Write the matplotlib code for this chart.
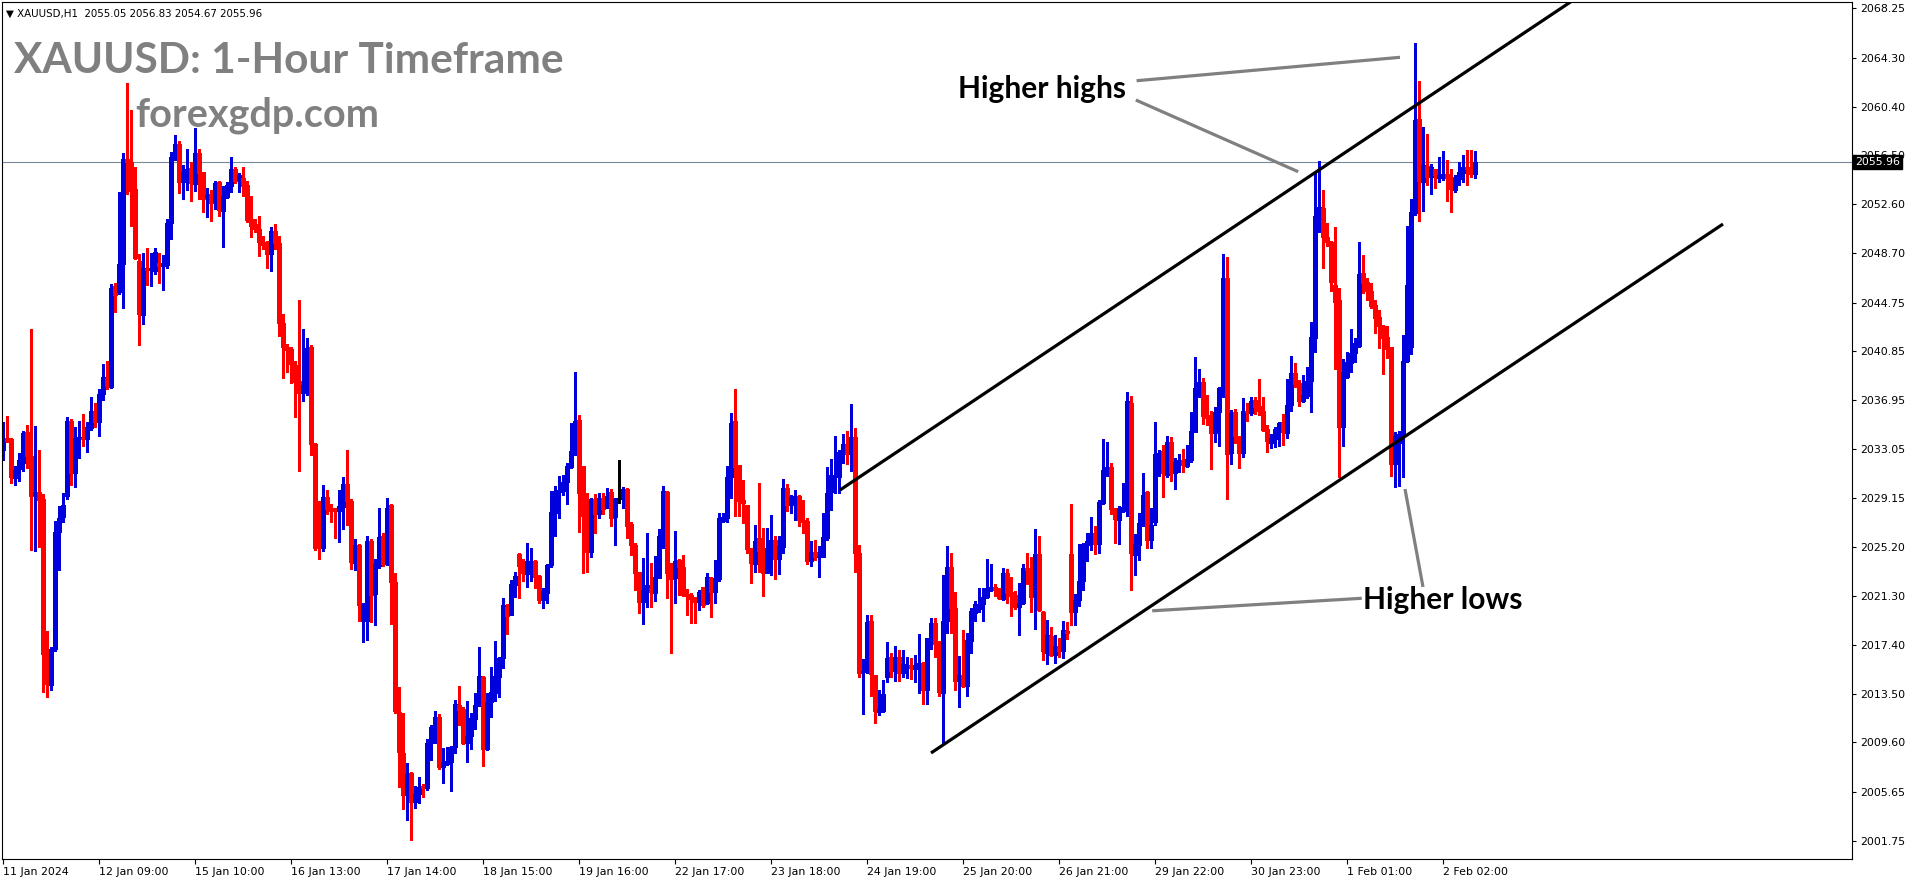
import numpy as np
import matplotlib
matplotlib.use("Agg")
import matplotlib.pyplot as plt
from matplotlib import transforms

# ---------------- data (XAUUSD H1) ----------------
opens = [
 2032.94, 2033.92, 2033.84, 2030.70, 2031.43, 2031.96, 2034.37, 2032.49, 2029.39, 2029.64,
 2029.07, 2016.71, 2014.23, 2017.04, 2026.42, 2027.64, 2029.27, 2035.31, 2031.11, 2033.88,
 2033.96, 2033.88, 2034.69, 2036.08, 2035.18, 2037.43, 2038.73, 2038.04, 2046.07, 2045.58,
 2047.82, 2056.22, 2055.98, 2053.81, 2048.07, 2043.75, 2047.46, 2047.37, 2047.29, 2047.90,
 2047.70, 2047.74, 2051.08, 2056.38, 2057.40, 2054.35, 2055.16, 2055.49, 2054.22, 2056.67,
 2055.16, 2053.16, 2053.41, 2052.80, 2054.35, 2052.10, 2053.20, 2054.02, 2055.45, 2054.51,
 2054.67, 2054.10, 2051.45, 2051.00, 2050.60, 2049.57, 2049.45, 2048.60, 2050.43, 2049.53,
 2043.09, 2041.22, 2041.05, 2039.79, 2038.45, 2037.55, 2038.16, 2041.18, 2033.43, 2025.28,
 2025.15, 2029.23, 2028.33, 2028.25, 2028.13, 2028.42, 2030.25, 2028.90, 2023.97, 2025.40,
 2019.28, 2019.28, 2025.73, 2021.44, 2023.69, 2026.13, 2023.85, 2028.54, 2022.46, 2012.03,
 2008.76, 2005.42, 2007.13, 2004.81, 2005.49, 2006.15, 2005.99, 2009.59, 2010.71, 2011.61,
 2007.62, 2007.88, 2008.07, 2009.22, 2012.57, 2012.28, 2009.54, 2010.12, 2011.48, 2012.54,
 2014.84, 2009.06, 2012.84, 2013.58, 2014.86, 2016.38, 2020.40, 2019.79, 2022.18, 2024.66,
 2023.78, 2023.09, 2023.97, 2024.10, 2022.90, 2020.99, 2021.57, 2023.78, 2027.91, 2029.64,
 2029.72, 2030.41, 2031.59, 2032.81, 2035.37, 2031.69, 2027.86, 2024.82, 2029.06, 2027.86,
 2029.16, 2028.36, 2029.64, 2027.64, 2029.11, 2029.16, 2029.88, 2027.06, 2025.38, 2023.22,
 2020.85, 2021.65, 2021.92, 2021.57, 2022.77, 2026.05, 2029.64, 2023.17, 2022.72, 2024.18,
 2023.65, 2021.47, 2021.39, 2021.07, 2020.85, 2022.00, 2020.72, 2022.72, 2021.65, 2022.64,
 2027.32, 2027.56, 2030.84, 2035.29, 2031.77, 2028.98, 2028.58, 2025.06, 2023.86, 2025.91,
 2024.98, 2023.17, 2025.06, 2025.78, 2024.23, 2025.25, 2029.91, 2028.58, 2028.98, 2029.29,
 2027.38, 2027.30, 2024.10, 2024.79, 2024.45, 2024.45, 2025.91, 2029.64, 2030.79, 2030.84,
 2032.78, 2033.45, 2032.65, 2034.04, 2024.71, 2015.23, 2015.23, 2019.31, 2015.00, 2012.07,
 2012.14, 2014.86, 2016.46, 2015.34, 2016.46, 2015.18, 2015.66, 2015.82, 2015.50, 2015.79,
 2015.93, 2013.80, 2017.85, 2019.18, 2017.66, 2013.58, 2019.34, 2023.62, 2020.32, 2014.54,
 2015.00, 2014.14, 2017.74, 2019.97, 2020.27, 2020.69, 2021.23, 2021.79, 2022.03, 2021.87,
 2021.07, 2023.12, 2021.60, 2021.36, 2020.45, 2020.72, 2023.52, 2023.44, 2021.31, 2024.66,
 2020.05, 2016.78, 2018.11, 2016.57, 2017.31, 2016.94, 2018.48, 2024.66, 2020.00, 2021.00,
 2022.50, 2025.38, 2025.65, 2026.31, 2025.46, 2028.76, 2031.24, 2031.58, 2028.31, 2027.38,
 2028.09, 2028.50, 2036.70, 2024.58, 2025.38, 2026.98, 2029.59, 2025.78, 2027.24, 2032.49,
 2032.89, 2030.97, 2033.63, 2031.10, 2031.96, 2032.17, 2031.69, 2032.17, 2034.43, 2037.89,
 2038.43, 2035.76, 2035.63, 2034.35, 2036.03, 2037.81, 2046.74, 2032.70, 2036.03, 2034.03,
 2032.76, 2036.11, 2035.90, 2036.96, 2036.48, 2036.11, 2034.62, 2033.56, 2033.88, 2034.52,
 2035.18, 2034.30, 2036.56, 2039.15, 2038.30, 2036.91, 2037.31, 2038.51, 2041.94, 2051.56,
 2052.33, 2049.99, 2049.61, 2046.15, 2044.95, 2034.78, 2038.83, 2039.95, 2040.69, 2041.30,
 2047.14, 2046.42, 2045.70, 2044.55, 2043.62, 2042.87, 2041.99, 2041.17, 2031.85, 2033.56,
 2034.17, 2040.11, 2041.22, 2051.87, 2059.41, 2054.41, 2055.68, 2054.81, 2055.42, 2054.73,
 2054.89, 2055.02, 2054.75, 2053.74, 2054.62, 2055.07, 2055.60, 2055.60, 2055.05]
highs = [
 2035.18, 2035.67, 2033.96, 2031.72, 2032.74, 2034.45, 2034.98, 2042.64, 2034.90, 2032.94,
 2029.48, 2018.47, 2017.25, 2027.31, 2028.46, 2029.56, 2035.59, 2035.47, 2034.77, 2035.26,
 2035.84, 2035.18, 2037.22, 2036.69, 2037.87, 2039.83, 2040.04, 2046.19, 2046.27, 2053.61,
 2056.67, 2062.30, 2060.13, 2055.57, 2048.64, 2048.72, 2049.13, 2048.72, 2049.13, 2048.72,
 2048.51, 2051.41, 2056.79, 2058.10, 2057.69, 2055.77, 2056.99, 2055.98, 2058.71, 2056.99,
 2055.20, 2053.86, 2053.73, 2054.43, 2054.43, 2054.02, 2054.35, 2056.38, 2055.57, 2055.08,
 2055.61, 2054.43, 2053.29, 2051.41, 2051.70, 2050.06, 2049.66, 2050.76, 2051.00, 2050.06,
 2043.87, 2041.46, 2041.22, 2040.08, 2044.97, 2042.60, 2041.91, 2041.38, 2033.55, 2028.86,
 2030.21, 2029.76, 2028.66, 2028.30, 2029.76, 2030.78, 2032.94, 2029.07, 2025.89, 2025.48,
 2020.71, 2026.13, 2025.89, 2024.26, 2028.33, 2026.34, 2029.11, 2028.66, 2023.16, 2014.06,
 2011.94, 2007.95, 2007.26, 2006.13, 2006.87, 2006.29, 2009.88, 2011.00, 2012.12, 2011.88,
 2009.14, 2009.27, 2009.30, 2013.00, 2014.12, 2012.46, 2012.92, 2011.99, 2013.53, 2017.26,
 2014.90, 2013.53, 2015.66, 2017.74, 2016.40, 2021.17, 2020.67, 2022.58, 2023.25, 2024.70,
 2024.26, 2025.57, 2025.14, 2024.18, 2022.96, 2021.97, 2023.86, 2029.72, 2030.09, 2030.92,
 2030.97, 2031.90, 2035.15, 2039.23, 2035.77, 2031.70, 2029.51, 2029.10, 2029.43, 2029.56,
 2029.51, 2029.96, 2029.85, 2029.11, 2032.17, 2030.04, 2029.91, 2027.24, 2025.57, 2023.25,
 2024.32, 2026.31, 2023.97, 2024.50, 2026.63, 2030.09, 2029.69, 2023.92, 2026.50, 2024.26,
 2024.58, 2021.84, 2021.57, 2021.20, 2021.79, 2022.05, 2023.12, 2022.85, 2024.18, 2027.91,
 2027.91, 2031.69, 2035.95, 2037.84, 2031.80, 2030.57, 2028.60, 2025.11, 2026.98, 2030.31,
 2026.71, 2026.71, 2027.78, 2026.10, 2026.10, 2030.65, 2030.25, 2029.37, 2029.77, 2029.37,
 2028.98, 2027.51, 2025.70, 2025.75, 2025.30, 2027.91, 2031.59, 2032.25, 2034.09, 2032.97,
 2034.22, 2034.49, 2036.64, 2034.75, 2025.38, 2016.27, 2019.79, 2019.79, 2015.00, 2013.80,
 2014.60, 2017.66, 2016.73, 2017.34, 2016.99, 2016.96, 2016.41, 2016.38, 2016.62, 2018.27,
 2016.06, 2017.98, 2019.52, 2019.57, 2017.70, 2022.98, 2025.30, 2024.77, 2021.65, 2016.54,
 2018.59, 2018.32, 2020.32, 2020.93, 2021.97, 2021.97, 2024.23, 2023.86, 2022.24, 2021.97,
 2023.52, 2023.46, 2022.80, 2021.73, 2022.37, 2023.86, 2024.71, 2024.45, 2026.66, 2026.10,
 2020.10, 2019.39, 2018.86, 2018.19, 2017.92, 2019.31, 2019.23, 2028.65, 2021.50, 2025.45,
 2025.51, 2026.31, 2027.64, 2026.90, 2028.97, 2033.85, 2033.61, 2031.90, 2028.36, 2028.52,
 2030.36, 2037.60, 2037.28, 2026.26, 2027.91, 2031.16, 2029.72, 2028.31, 2035.20, 2032.97,
 2033.37, 2034.09, 2034.03, 2032.30, 2032.62, 2033.05, 2033.37, 2036.03, 2040.43, 2039.47,
 2038.69, 2037.36, 2036.08, 2036.43, 2038.03, 2048.63, 2048.36, 2036.16, 2036.22, 2034.10,
 2037.10, 2036.75, 2037.23, 2037.23, 2038.64, 2037.23, 2034.97, 2034.25, 2034.83, 2035.23,
 2035.85, 2038.61, 2040.48, 2039.95, 2038.56, 2038.96, 2039.63, 2043.19, 2055.21, 2056.08,
 2053.74, 2051.13, 2049.67, 2050.81, 2045.94, 2040.24, 2040.83, 2042.64, 2041.94, 2049.61,
 2048.55, 2046.68, 2046.34, 2044.95, 2044.15, 2042.95, 2042.90, 2041.22, 2034.38, 2034.49,
 2042.16, 2050.87, 2052.99, 2065.51, 2062.45, 2058.80, 2058.21, 2055.82, 2055.45, 2056.40,
 2056.86, 2056.14, 2055.42, 2054.94, 2055.95, 2056.54, 2056.94, 2056.94, 2056.83]
lows = [
 2032.13, 2033.63, 2030.37, 2030.21, 2030.49, 2031.31, 2031.51, 2024.99, 2024.87, 2025.20,
 2013.66, 2013.25, 2013.78, 2016.90, 2023.36, 2027.23, 2029.07, 2030.21, 2030.05, 2032.33,
 2033.31, 2032.82, 2034.60, 2034.77, 2034.08, 2036.94, 2037.83, 2037.90, 2043.99, 2045.42,
 2044.32, 2053.45, 2050.88, 2048.23, 2041.38, 2043.05, 2046.11, 2046.03, 2047.01, 2046.31,
 2045.78, 2047.50, 2049.86, 2056.14, 2053.53, 2053.00, 2053.73, 2052.88, 2053.69, 2053.00,
 2051.98, 2051.57, 2051.25, 2052.22, 2051.65, 2049.17, 2053.12, 2053.57, 2054.30, 2053.61,
 2053.29, 2051.17, 2050.02, 2050.35, 2048.43, 2049.04, 2047.54, 2047.29, 2049.04, 2042.11,
 2038.69, 2039.18, 2038.32, 2035.59, 2031.31, 2036.90, 2037.38, 2032.53, 2024.99, 2024.26,
 2024.91, 2027.85, 2027.19, 2025.93, 2025.60, 2026.62, 2026.95, 2023.44, 2023.36, 2019.28,
 2017.65, 2017.82, 2019.20, 2018.96, 2023.57, 2023.69, 2023.77, 2019.08, 2011.94, 2006.03,
 2004.32, 2003.38, 2001.84, 2004.34, 2004.74, 2005.28, 2005.81, 2008.20, 2009.54, 2007.46,
 2006.34, 2007.80, 2005.75, 2008.79, 2011.00, 2009.48, 2008.07, 2009.06, 2010.71, 2012.50,
 2007.72, 2009.00, 2011.67, 2012.89, 2013.21, 2015.53, 2018.27, 2019.75, 2021.25, 2021.17,
 2022.53, 2022.05, 2022.53, 2021.97, 2020.72, 2020.32, 2020.77, 2023.65, 2026.13, 2027.56,
 2029.37, 2028.66, 2031.50, 2032.57, 2026.42, 2023.17, 2023.25, 2024.40, 2026.37, 2027.56,
 2027.86, 2028.31, 2026.93, 2025.38, 2028.71, 2028.36, 2025.97, 2024.58, 2021.79, 2019.97,
 2019.07, 2020.40, 2020.45, 2020.93, 2022.72, 2025.17, 2021.15, 2016.78, 2020.72, 2021.39,
 2021.31, 2019.79, 2019.12, 2019.12, 2020.19, 2020.40, 2020.67, 2019.60, 2020.72, 2022.53,
 2027.24, 2027.24, 2029.11, 2027.72, 2027.72, 2027.11, 2024.77, 2022.32, 2023.25, 2023.25,
 2021.33, 2023.12, 2022.98, 2022.64, 2023.04, 2024.77, 2028.12, 2027.91, 2027.35, 2026.90,
 2026.37, 2023.86, 2023.73, 2024.18, 2022.80, 2024.40, 2025.78, 2028.18, 2029.56, 2029.56,
 2031.90, 2031.85, 2031.29, 2023.25, 2014.86, 2011.85, 2015.18, 2013.34, 2011.13, 2011.77,
 2012.07, 2014.46, 2014.86, 2014.52, 2014.54, 2014.86, 2014.78, 2014.67, 2014.41, 2013.53,
 2012.65, 2012.68, 2017.10, 2016.46, 2013.34, 2009.54, 2018.32, 2018.32, 2013.80, 2012.46,
 2014.01, 2013.34, 2016.78, 2019.34, 2020.00, 2019.34, 2021.17, 2021.73, 2021.33, 2021.04,
 2020.99, 2020.72, 2019.71, 2020.27, 2018.19, 2020.67, 2022.26, 2020.05, 2018.64, 2020.10,
 2016.19, 2015.87, 2016.54, 2015.98, 2016.41, 2016.38, 2017.90, 2019.00, 2019.00, 2020.50,
 2021.80, 2024.13, 2024.98, 2024.66, 2024.77, 2028.65, 2030.89, 2027.83, 2025.51, 2025.46,
 2028.04, 2027.70, 2021.78, 2022.98, 2024.18, 2026.90, 2025.11, 2025.11, 2026.98, 2030.89,
 2029.24, 2030.84, 2030.52, 2029.83, 2031.24, 2031.24, 2031.64, 2032.04, 2034.40, 2037.23,
 2035.02, 2034.96, 2031.42, 2033.63, 2033.29, 2037.23, 2029.03, 2031.82, 2033.50, 2031.50,
 2032.44, 2035.28, 2035.77, 2035.85, 2035.77, 2034.49, 2032.84, 2033.10, 2033.24, 2033.32,
 2033.37, 2033.90, 2036.11, 2038.03, 2036.51, 2036.83, 2037.10, 2036.03, 2040.77, 2050.41,
 2047.48, 2049.29, 2045.70, 2039.41, 2030.84, 2033.32, 2038.70, 2039.23, 2040.03, 2041.22,
 2045.54, 2044.95, 2044.34, 2042.34, 2041.14, 2039.01, 2040.29, 2030.89, 2030.04, 2030.12,
 2030.84, 2040.03, 2040.64, 2051.74, 2051.29, 2052.09, 2054.14, 2053.42, 2053.87, 2054.41,
 2054.54, 2052.89, 2051.98, 2053.56, 2054.14, 2054.41, 2054.14, 2054.81, 2054.67]
closes = [
 2033.96, 2033.72, 2030.82, 2031.35, 2032.13, 2034.33, 2032.45, 2029.31, 2029.64, 2028.99,
 2016.63, 2014.31, 2017.04, 2026.42, 2027.52, 2028.54, 2035.26, 2031.11, 2033.92, 2034.00,
 2033.88, 2034.77, 2036.08, 2035.18, 2037.47, 2038.77, 2038.12, 2045.95, 2045.34, 2047.82,
 2056.22, 2055.98, 2053.69, 2048.31, 2043.87, 2047.50, 2047.37, 2047.54, 2048.80, 2047.66,
 2047.90, 2051.12, 2056.38, 2057.40, 2054.35, 2055.16, 2055.41, 2054.26, 2056.71, 2055.08,
 2053.00, 2053.37, 2052.71, 2054.30, 2052.18, 2053.29, 2054.10, 2055.41, 2054.43, 2054.92,
 2054.02, 2051.37, 2050.84, 2050.60, 2049.57, 2049.33, 2048.64, 2050.43, 2049.53, 2043.09,
 2041.22, 2040.97, 2039.87, 2038.40, 2037.55, 2038.20, 2041.10, 2033.43, 2025.15, 2025.11,
 2029.23, 2028.25, 2028.09, 2028.13, 2028.46, 2030.25, 2028.90, 2024.05, 2025.40, 2020.59,
 2020.67, 2025.73, 2021.40, 2023.89, 2026.05, 2023.89, 2028.37, 2022.42, 2012.15, 2008.85,
 2005.42, 2007.05, 2004.81, 2005.45, 2006.02, 2005.99, 2009.54, 2010.81, 2011.61, 2007.62,
 2008.02, 2008.10, 2009.27, 2012.68, 2012.20, 2009.59, 2010.12, 2011.53, 2012.57, 2014.92,
 2009.06, 2012.84, 2013.61, 2014.92, 2016.33, 2020.59, 2019.71, 2022.26, 2022.90, 2023.73,
 2023.17, 2024.10, 2024.10, 2022.85, 2020.99, 2021.71, 2023.78, 2027.99, 2029.69, 2029.77,
 2030.44, 2031.69, 2032.92, 2035.29, 2029.56, 2027.72, 2024.82, 2029.06, 2027.86, 2029.16,
 2028.26, 2029.29, 2027.56, 2029.06, 2029.11, 2029.88, 2026.93, 2025.38, 2023.17, 2020.85,
 2021.79, 2022.19, 2021.60, 2022.85, 2026.10, 2029.69, 2023.17, 2022.66, 2024.10, 2023.65,
 2021.39, 2021.31, 2021.04, 2020.80, 2021.60, 2020.59, 2022.80, 2021.65, 2022.72, 2027.51,
 2027.64, 2030.84, 2035.15, 2031.64, 2028.92, 2028.76, 2025.06, 2023.92, 2025.73, 2024.93,
 2023.17, 2025.11, 2025.78, 2024.23, 2025.30, 2029.91, 2028.58, 2029.24, 2029.29, 2027.38,
 2027.24, 2024.10, 2024.79, 2024.45, 2024.50, 2025.99, 2029.51, 2030.97, 2030.92, 2032.81,
 2033.45, 2032.65, 2034.04, 2024.71, 2015.18, 2015.31, 2019.26, 2015.05, 2012.14, 2012.28,
 2013.48, 2016.38, 2015.34, 2016.46, 2015.18, 2015.87, 2015.82, 2015.53, 2015.82, 2015.93,
 2013.80, 2017.92, 2019.18, 2017.50, 2013.66, 2019.34, 2023.62, 2020.32, 2014.54, 2015.00,
 2014.14, 2017.79, 2020.13, 2020.69, 2020.69, 2021.23, 2021.95, 2022.03, 2021.79, 2021.12,
 2023.12, 2021.57, 2021.33, 2020.45, 2020.77, 2023.52, 2023.38, 2021.23, 2024.66, 2020.19,
 2016.91, 2018.19, 2016.59, 2017.31, 2016.94, 2018.59, 2018.38, 2020.00, 2021.00, 2022.50,
 2025.46, 2025.73, 2026.31, 2025.46, 2028.84, 2031.37, 2031.64, 2028.25, 2027.46, 2028.31,
 2028.44, 2036.88, 2024.77, 2025.46, 2027.11, 2029.37, 2025.78, 2026.98, 2032.65, 2032.75,
 2031.10, 2033.63, 2031.10, 2032.03, 2032.17, 2031.77, 2032.27, 2034.51, 2037.95, 2038.37,
 2035.71, 2035.55, 2034.35, 2036.03, 2037.90, 2046.68, 2032.62, 2035.95, 2034.09, 2032.76,
 2036.08, 2035.98, 2036.88, 2036.43, 2036.11, 2034.57, 2033.72, 2033.96, 2034.65, 2035.15,
 2034.38, 2036.56, 2039.15, 2038.24, 2036.91, 2037.36, 2038.48, 2041.99, 2051.66, 2052.36,
 2050.01, 2049.61, 2046.36, 2044.82, 2034.83, 2039.23, 2040.03, 2040.75, 2041.49, 2047.03,
 2046.28, 2045.70, 2044.47, 2043.54, 2042.87, 2041.94, 2041.04, 2031.85, 2034.09, 2034.25,
 2040.11, 2046.15, 2052.01, 2059.33, 2054.49, 2055.74, 2054.75, 2055.60, 2054.94, 2054.94,
 2055.02, 2054.73, 2053.82, 2054.67, 2055.15, 2055.60, 2055.39, 2055.02, 2055.96]

x_tick_labels = ["11 Jan 2024", "12 Jan 09:00", "15 Jan 10:00", "16 Jan 13:00",
                 "17 Jan 14:00", "18 Jan 15:00", "19 Jan 16:00", "22 Jan 17:00",
                 "23 Jan 18:00", "24 Jan 19:00", "25 Jan 20:00", "26 Jan 21:00",
                 "29 Jan 22:00", "30 Jan 23:00", "1 Feb 01:00", "2 Feb 02:00"]
x_tick_bars = [0, 24, 48, 72, 96, 120, 144, 168, 192, 216, 240, 264, 288, 312, 336, 360]
y_tick_values = [2068.25, 2064.30, 2060.40, 2056.50, 2052.60, 2048.70, 2044.75, 2040.85,
                 2036.95, 2033.05, 2029.15, 2025.20, 2021.30, 2017.40, 2013.50, 2009.60,
                 2005.65, 2001.75]
last_price = 2055.96
header = "\u25bc XAUUSD,H1  2055.05 2056.83 2054.67 2055.96"

# trend channel + annotation lines: (bar index, price) end points
upper_channel = [(209.25, 2029.77), (395.0, 2069.43)]
lower_channel = [(232.0, 2008.76), (430.0, 2051.02)]
hh_pointer_1 = [(283.4, 2062.47), (349.25, 2064.34)]
hh_pointer_2 = [(283.2, 2060.93), (323.8, 2055.20)]
hl_pointer_1 = [(287.3, 2020.12), (339.7, 2021.12)]
hl_pointer_2 = [(350.5, 2029.85), (355.0, 2022.02)]
hh_label = (238.75, 2061.09, "Higher highs")
hl_label = (340.0, 2020.24, "Higher lows")

# ---------------- figure ----------------
W, H = 1916, 884
fig = plt.figure(figsize=(W / 100, H / 100), dpi=100)
fig.patch.set_facecolor("white")
L_px, R_px, T_px, B_px = 1.5, 1852.0, 1.5, 859.0
ax = fig.add_axes([L_px / W, 1 - B_px / H, (R_px - L_px) / W, (B_px - T_px) / H])
ax.set_facecolor("white")
ax.set_xlim(-0.375, 462.25)
ax.set_ylim(2000.29, 2068.80)

BLUE = "#0000dd"
RED = "#ff0000"
o = np.array(opens); h = np.array(highs); l = np.array(lows); c = np.array(closes)
idx = np.arange(len(o))
cols = np.where(c > o, BLUE, np.where(c < o, RED, "#000000"))
ax.vlines(idx, l, h, colors=cols, linewidth=0.75, antialiased=False, zorder=2)
bot = np.minimum(o, c); top = np.maximum(o, c)
mid = (bot + top) / 2
half = np.maximum((top - bot) / 2, 0.045)
ax.vlines(idx, mid - half, mid + half, colors=cols, linewidth=2.2, antialiased=False, zorder=2)

# last price line
ax.axhline(last_price, color="#778899", linewidth=0.8, zorder=1)

# channel lines
for seg in (upper_channel, lower_channel):
    ax.plot([seg[0][0], seg[1][0]], [seg[0][1], seg[1][1]], color="black", lw=2.3,
            solid_capstyle="butt", zorder=3)
for seg in (hh_pointer_1, hh_pointer_2, hl_pointer_1, hl_pointer_2):
    ax.plot([seg[0][0], seg[1][0]], [seg[0][1], seg[1][1]], color="#808080", lw=2.3,
            solid_capstyle="butt", zorder=3)

for (bx, py, txt) in (hh_label, hl_label):
    ax.text(bx, py, txt, fontsize=21.5, fontweight="bold", family="Lato",
            color="black", ha="left", va="baseline", zorder=4)

# watermark texts
fig.text(14 / W, 1 - 73 / H, "XAUUSD: 1-Hour Timeframe", fontsize=30.5, fontweight="bold",
         family="Lato", color="#808080", ha="left", va="baseline")
fig.text(135 / W, 1 - 127 / H, "forexgdp.com", fontsize=28.5, fontweight="bold",
         family="Lato", color="#808080", ha="left", va="baseline")
fig.text(6 / W, 1 - 17 / H, header, fontsize=7.4, family="DejaVu Sans", color="black",
         ha="left", va="baseline")

# axes / ticks
for sp in ax.spines.values():
    sp.set_color("black")
    sp.set_linewidth(0.8)
ax.yaxis.tick_right()
ax.set_yticks(y_tick_values)
ax.set_yticklabels([f"{v:.2f}" for v in y_tick_values])
ax.tick_params(axis="y", direction="out", length=3, width=0.8, pad=3, labelsize=7.9,
               colors="black")
ax.set_xticks(x_tick_bars)
ax.set_xticklabels(x_tick_labels)
for lab in ax.get_xticklabels():
    lab.set_horizontalalignment("left")
ax.tick_params(axis="x", direction="out", length=3.5, width=0.8, pad=2, labelsize=7.9,
               colors="black")

# current price box
trans = transforms.blended_transform_factory(ax.transAxes, ax.transData)
ax.text(1.0015, last_price, f"{last_price:.2f}", transform=trans, color="white",
        fontsize=7.9, ha="left", va="center", zorder=10, clip_on=False,
        bbox=dict(facecolor="black", edgecolor="black", pad=1.6))

fig.savefig("out.png", dpi=100, facecolor="white")
